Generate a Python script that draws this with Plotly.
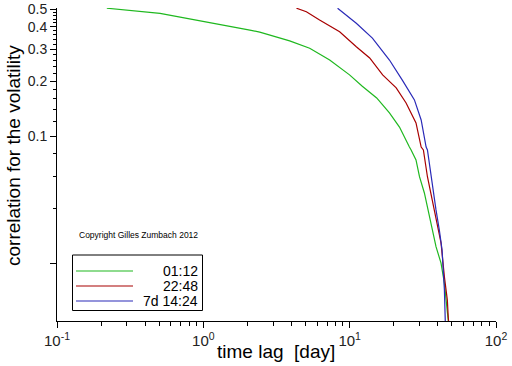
import plotly.graph_objects as go

# ---- data ----
green_x = [0.219, 0.506, 2.08, 2.43, 3.89, 5.33, 7.30, 9.98, 12.2, 15.3, 18.7, 21.9, 25.6, 26.3, 28.4,
           30.0, 32.4, 35.1, 36.7, 38.9, 42.1, 44.4, 45.6, 47.2, 48.0]
green_y = [0.505, 0.473, 0.383, 0.373, 0.334, 0.304, 0.262, 0.217, 0.188, 0.162, 0.134, 0.112, 0.087,
           0.0838, 0.0738, 0.0597, 0.0486, 0.0360, 0.0293, 0.0246, 0.0200, 0.0155, 0.0125, 0.0097, 0.0085]

red_x = [4.33, 5.06, 6.23, 8.54, 11.1, 13.7, 16.8, 20.8, 24.3, 28.4, 30.8, 31.9, 34.0, 36.7, 39.7,
         42.1, 44.4, 46.5, 47.2, 48.0]
red_y = [0.505, 0.483, 0.435, 0.375, 0.310, 0.269, 0.217, 0.184, 0.152, 0.118, 0.087, 0.0838, 0.0597,
         0.0444, 0.0317, 0.0258, 0.0168, 0.0125, 0.0100, 0.0085]

blue_x = [8.27, 11.1, 14.3, 18.7, 22.9, 27.7, 30.8, 33.3, 34.0, 36.0, 38.9, 41.0, 42.8, 44.4, 44.9, 45.2]
blue_y = [0.505, 0.417, 0.346, 0.262, 0.203, 0.158, 0.1225, 0.087, 0.0838, 0.0597, 0.0392, 0.0304,
          0.0236, 0.0142, 0.0100, 0.0085]

series_names = ["01:12", "22:48", "7d 14:24"]
series_colors = ["#1fb81f", "#a80000", "#2a2ab8"]

x_tickvals = [0.1, 1, 10, 100]
x_ticktext = ["10<sup>-1</sup>", "10<sup>0</sup>", "10<sup>1</sup>", "10<sup>2</sup>"]

y_tickvals = [0.02, 0.1, 0.2, 0.3, 0.4, 0.5]
y_ticktext = ["", "0.1", "0.2", "0.3", "0.4", "0.5"]
y_minor = [0.04, 0.06, 0.08, 0.12, 0.14, 0.16, 0.18, 0.22, 0.24, 0.26, 0.28,
           0.32, 0.34, 0.36, 0.38, 0.42, 0.44, 0.46, 0.48]

FONT = "Liberation Sans, Arial, sans-serif"

fig = go.Figure()
for xs, ys, name, col in zip([green_x, red_x, blue_x], [green_y, red_y, blue_y], series_names, series_colors):
    fig.add_trace(go.Scatter(x=xs, y=ys, mode="lines", name=name,
                             line=dict(color=col, width=1.2), showlegend=False))

# plot area in pixels: left 57, right 496, top 8, bottom 321
L, R, T, B = 57, 496, 8, 321
W, H = R - L, B - T
def px(x):
    return (x - L) / W
def py(y):
    return (B - y) / H

shapes = [dict(type="rect", xref="paper", yref="paper", x0=px(72.5), x1=px(202.5), y0=py(310.5), y1=py(255),
               line=dict(color="black", width=1), fillcolor="white")]
annotations = []
for i, (name, col) in enumerate(zip(series_names, series_colors)):
    yy = 271 + i * 15
    shapes.append(dict(type="line", xref="paper", yref="paper", x0=px(76), x1=px(133), y0=py(yy), y1=py(yy),
                       line=dict(color=col, width=1.2)))
    annotations.append(dict(xref="paper", yref="paper", x=px(200), y=py(yy), xanchor="right", yanchor="middle",
                            text=name, showarrow=False, font=dict(family=FONT, size=14, color="black")))

annotations.append(dict(xref="paper", yref="paper", x=px(77), y=py(235), xanchor="left", yanchor="middle",
                        text="Copyright Gilles Zumbach 2012", showarrow=False,
                        font=dict(family=FONT, size=8.5, color="black")))
annotations.append(dict(xref="paper", yref="paper", x=px(276), y=py(351), xanchor="center", yanchor="middle",
                        text="time lag  [day]", showarrow=False,
                        font=dict(family=FONT, size=19, color="black")))
annotations.append(dict(xref="paper", yref="paper", x=px(13), y=py(156), xanchor="center", yanchor="middle",
                        text="correlation for the volatility", textangle=-90, showarrow=False,
                        font=dict(family=FONT, size=19, color="black")))

fig.update_layout(
    width=512, height=366,
    margin=dict(l=L, r=512 - R, t=T, b=366 - B, autoexpand=False),
    paper_bgcolor="white", plot_bgcolor="white",
    font=dict(family=FONT, size=14, color="#222"),
    shapes=shapes, annotations=annotations,
    showlegend=False,
)
fig.update_xaxes(type="log", range=[-1, 2], showline=True, linecolor="black", linewidth=1, automargin=False,
                 showgrid=False, zeroline=False, ticks="outside", ticklen=6, tickcolor="black",
                 tickmode="array", tickvals=x_tickvals, ticktext=x_ticktext,
                 tickfont=dict(size=15, color="#222"),
                 minor=dict(ticks="outside", ticklen=4, tickcolor="black", dtick="D1", showgrid=False))
fig.update_yaxes(type="log", range=[-2.018, -0.2955], showline=True, linecolor="black", linewidth=1,
                 automargin=False,
                 showgrid=False, zeroline=False, ticks="outside", ticklen=6, tickcolor="black",
                 tickmode="array", tickvals=y_tickvals, ticktext=y_ticktext,
                 tickfont=dict(size=14, color="#222"),
                 minor=dict(ticks="outside", ticklen=3, tickcolor="black", tickmode="array",
                            tickvals=y_minor, showgrid=False))

fig.write_html("out.html", config={"displayModeBar": False},
               post_script="document.body.style.margin='0';")
